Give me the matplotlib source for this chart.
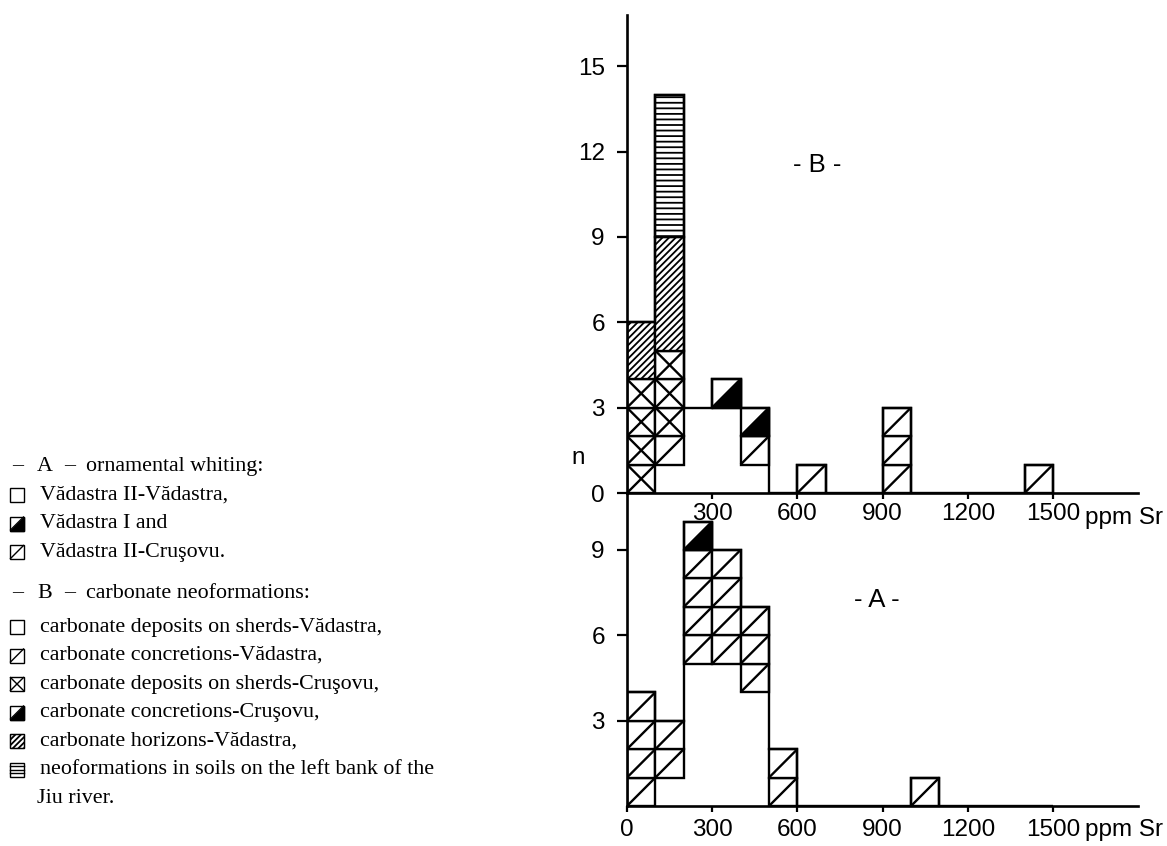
import numpy as np
import matplotlib
matplotlib.use('Agg')
import matplotlib.pyplot as plt
from matplotlib.patches import Rectangle, Polygon

# bins of 100 ppm Sr
bins = [0, 100, 200, 300, 400, 500, 600, 700, 800, 900, 1000, 1100, 1200, 1300, 1400]
bin_w = 100

# - A - ornamental whiting (counts per bin, stacked bottom -> top)
a_empty = [0, 1, 5, 5, 4, 0, 0, 0, 0, 0, 0, 0, 0, 0, 0]   # Vadastra II-Vadastra
a_diag = [4, 2, 4, 4, 3, 2, 0, 0, 0, 0, 1, 0, 0, 0, 0]    # Vadastra II-Crusovu
a_half = [0, 0, 1, 0, 0, 0, 0, 0, 0, 0, 0, 0, 0, 0, 0]    # Vadastra I

# - B - carbonate neoformations
b_empty = [0, 1, 3, 3, 1, 0, 0, 0, 0, 0, 0, 0, 0, 0, 0]   # deposits on sherds-Vadastra
b_diag = [0, 1, 0, 0, 1, 0, 1, 0, 0, 3, 0, 0, 0, 0, 1]    # concretions-Vadastra
b_cross = [4, 3, 0, 0, 0, 0, 0, 0, 0, 0, 0, 0, 0, 0, 0]   # deposits on sherds-Crusovu
b_half = [0, 0, 0, 1, 1, 0, 0, 0, 0, 0, 0, 0, 0, 0, 0]    # concretions-Crusovu
b_dense = [2, 4, 0, 0, 0, 0, 0, 0, 0, 0, 0, 0, 0, 0, 0]   # horizons-Vadastra
b_horiz = [0, 5, 0, 0, 0, 0, 0, 0, 0, 0, 0, 0, 0, 0, 0]   # soils left bank of Jiu

b_yticks = [0, 3, 6, 9, 12, 15]
a_yticks = [3, 6, 9]
top_xticks = [300, 600, 900, 1200, 1500]
bottom_xticks = [0, 300, 600, 900, 1200, 1500]

legend_a_labels = ['Vădastra II-Vădastra,', 'Vădastra I and', 'Vădastra II-Cruşovu.']
legend_a_styles = ['empty', 'half', 'diag']
legend_b_labels = ['carbonate deposits on sherds-Vădastra,',
                   'carbonate concretions-Vădastra,',
                   'carbonate deposits on sherds-Cruşovu,',
                   'carbonate concretions-Cruşovu,',
                   'carbonate horizons-Vădastra,',
                   'neoformations in soils on the left bank of the']
legend_b_styles = ['empty', 'diag', 'cross', 'half', 'dense', 'horiz']

LW = 1.7
FS = 17.5
chart_font = ['Liberation Sans', 'DejaVu Sans']
serif_font = ['Liberation Serif', 'DejaVu Serif']
plt.rcParams['hatch.linewidth'] = 1.3


def draw_square(ax, x, y, w, h, style, lw=LW):
    ax.add_patch(Rectangle((x, y), w, h, fc='white', ec='black', lw=lw))
    if style == 'half':
        ax.add_patch(Polygon([(x, y), (x + w, y), (x + w, y + h)], closed=True,
                             fc='black', ec='black', lw=lw))
    if style in ('diag', 'half', 'cross'):
        ax.plot([x, x + w], [y, y + h], color='black', lw=lw, solid_capstyle='butt')
    if style == 'cross':
        ax.plot([x, x + w], [y + h, y], color='black', lw=lw, solid_capstyle='butt')
    if style == 'dense':
        ax.add_patch(Rectangle((x, y), w, h, fc='none', ec='black', lw=0.8, hatch='//////'))
    if style == 'horiz':
        for k in (1, 2, 3):
            ax.plot([x, x + w], [y + h * k / 4] * 2, color='black', lw=1)


def draw_stack(ax, layers):
    bottom = np.zeros(len(bins))
    for counts, style in layers:
        counts = np.array(counts)
        for i, c in enumerate(counts):
            if c == 0 or style == 'empty':
                continue
            x0, y0 = bins[i], bottom[i]
            if style in ('dense', 'horiz'):
                hatch = '/////' if style == 'dense' else '---'
                ax.bar(x0, c, bin_w, y0, align='edge', facecolor='white',
                       edgecolor='black', lw=LW, hatch=hatch)
            else:
                for k in range(c):
                    draw_square(ax, x0, y0 + k, bin_w, 1, style)
        bottom += counts
    ax.stairs(bottom, bins + [bins[-1] + bin_w], baseline=0, color='black', lw=LW)


fig = plt.figure(figsize=(11.67, 8.46), dpi=100)

# legend area (pixel coordinates)
lax = fig.add_axes([0, 0, 1, 1])
lax.set_xlim(0, 1167)
lax.set_ylim(0, 846)
lax.axis('off')

def lg_text(x, y, s):
    lax.text(x, 846 - y, s, fontsize=15.8, family=serif_font, va='center', ha='left')

def lg_header(y, letter, s):
    lg_text(12, y, '–')
    lg_text(37, y, letter)
    lg_text(64, y, '–')
    lg_text(86, y, s)

lg_header(466, 'A', 'ornamental whiting:')
for k, (lab, st) in enumerate(zip(legend_a_labels, legend_a_styles)):
    y = 495 + k * 28.5
    draw_square(lax, 10, 846 - y - 7, 14, 14, st, lw=1.0)
    lg_text(40, y, lab)

lg_header(593, 'B', 'carbonate neoformations:')
for k, (lab, st) in enumerate(zip(legend_b_labels, legend_b_styles)):
    y = 627 + k * 28.5
    draw_square(lax, 10, 846 - y - 7, 14, 14, st, lw=1.0)
    lg_text(40, y, lab)
lg_text(37, 798, 'Jiu river.')

# chart axes
W = 1167.0
H = 846.0
x0_px = 627
x_len = 511
ppm_px = 0.284   # px per ppm
n_px = 28.45     # px per count

ax_b = fig.add_axes([x0_px / W, (H - 493) / H, x_len / W, 478 / H])
ax_a = fig.add_axes([x0_px / W, (H - 806) / H, x_len / W, 313 / H])

draw_stack(ax_b, [(b_empty, 'empty'), (b_diag, 'diag'), (b_cross, 'cross'),
                  (b_half, 'half'), (b_dense, 'dense'), (b_horiz, 'horiz')])
draw_stack(ax_a, [(a_empty, 'empty'), (a_diag, 'diag'), (a_half, 'half')])

for ax, ymax in ((ax_b, 478 / n_px), (ax_a, 313 / n_px)):
    ax.set_xlim(0, x_len / ppm_px)
    ax.set_ylim(0, ymax)
    ax.set_facecolor('none')
    for side in ('top', 'right'):
        ax.spines[side].set_visible(False)
    for side in ('left', 'bottom'):
        ax.spines[side].set_linewidth(1.9)
    ax.tick_params(axis='y', direction='out', length=7, width=1.6, pad=9)
    ax.tick_params(axis='x', direction='out', length=4, width=1.6)

ax_b.set_yticks(b_yticks)
ax_b.set_yticklabels([str(v) for v in b_yticks], family=chart_font, fontsize=FS)
ax_b.set_xticks(top_xticks)
ax_b.set_xticklabels([str(v) for v in top_xticks], family=chart_font, fontsize=FS)
ax_b.tick_params(axis='x', pad=3)

ax_a.set_yticks(a_yticks)
ax_a.set_yticklabels([str(v) for v in a_yticks], family=chart_font, fontsize=FS)
ax_a.set_xticks(bottom_xticks)
ax_a.set_xticklabels([str(v) for v in bottom_xticks], family=chart_font, fontsize=FS)
ax_a.tick_params(axis='x', pad=5)

ax_b.text(0.897, -0.052, 'ppm Sr', transform=ax_b.transAxes, family=chart_font,
          fontsize=FS, ha='left', va='center')
ax_a.text(0.897, -0.077, 'ppm Sr', transform=ax_a.transAxes, family=chart_font,
          fontsize=FS, ha='left', va='center')
ax_b.text(-0.096, 0.073, 'n', transform=ax_b.transAxes, family=chart_font,
          fontsize=FS, ha='center', va='center')
ax_b.text(0.372, 0.686, '- B -', transform=ax_b.transAxes, family=chart_font,
          fontsize=FS + 1, ha='center', va='center')
ax_a.text(0.489, 0.658, '- A -', transform=ax_a.transAxes, family=chart_font,
          fontsize=FS + 1, ha='center', va='center')

fig.savefig('out.png', dpi=100, facecolor='white')
